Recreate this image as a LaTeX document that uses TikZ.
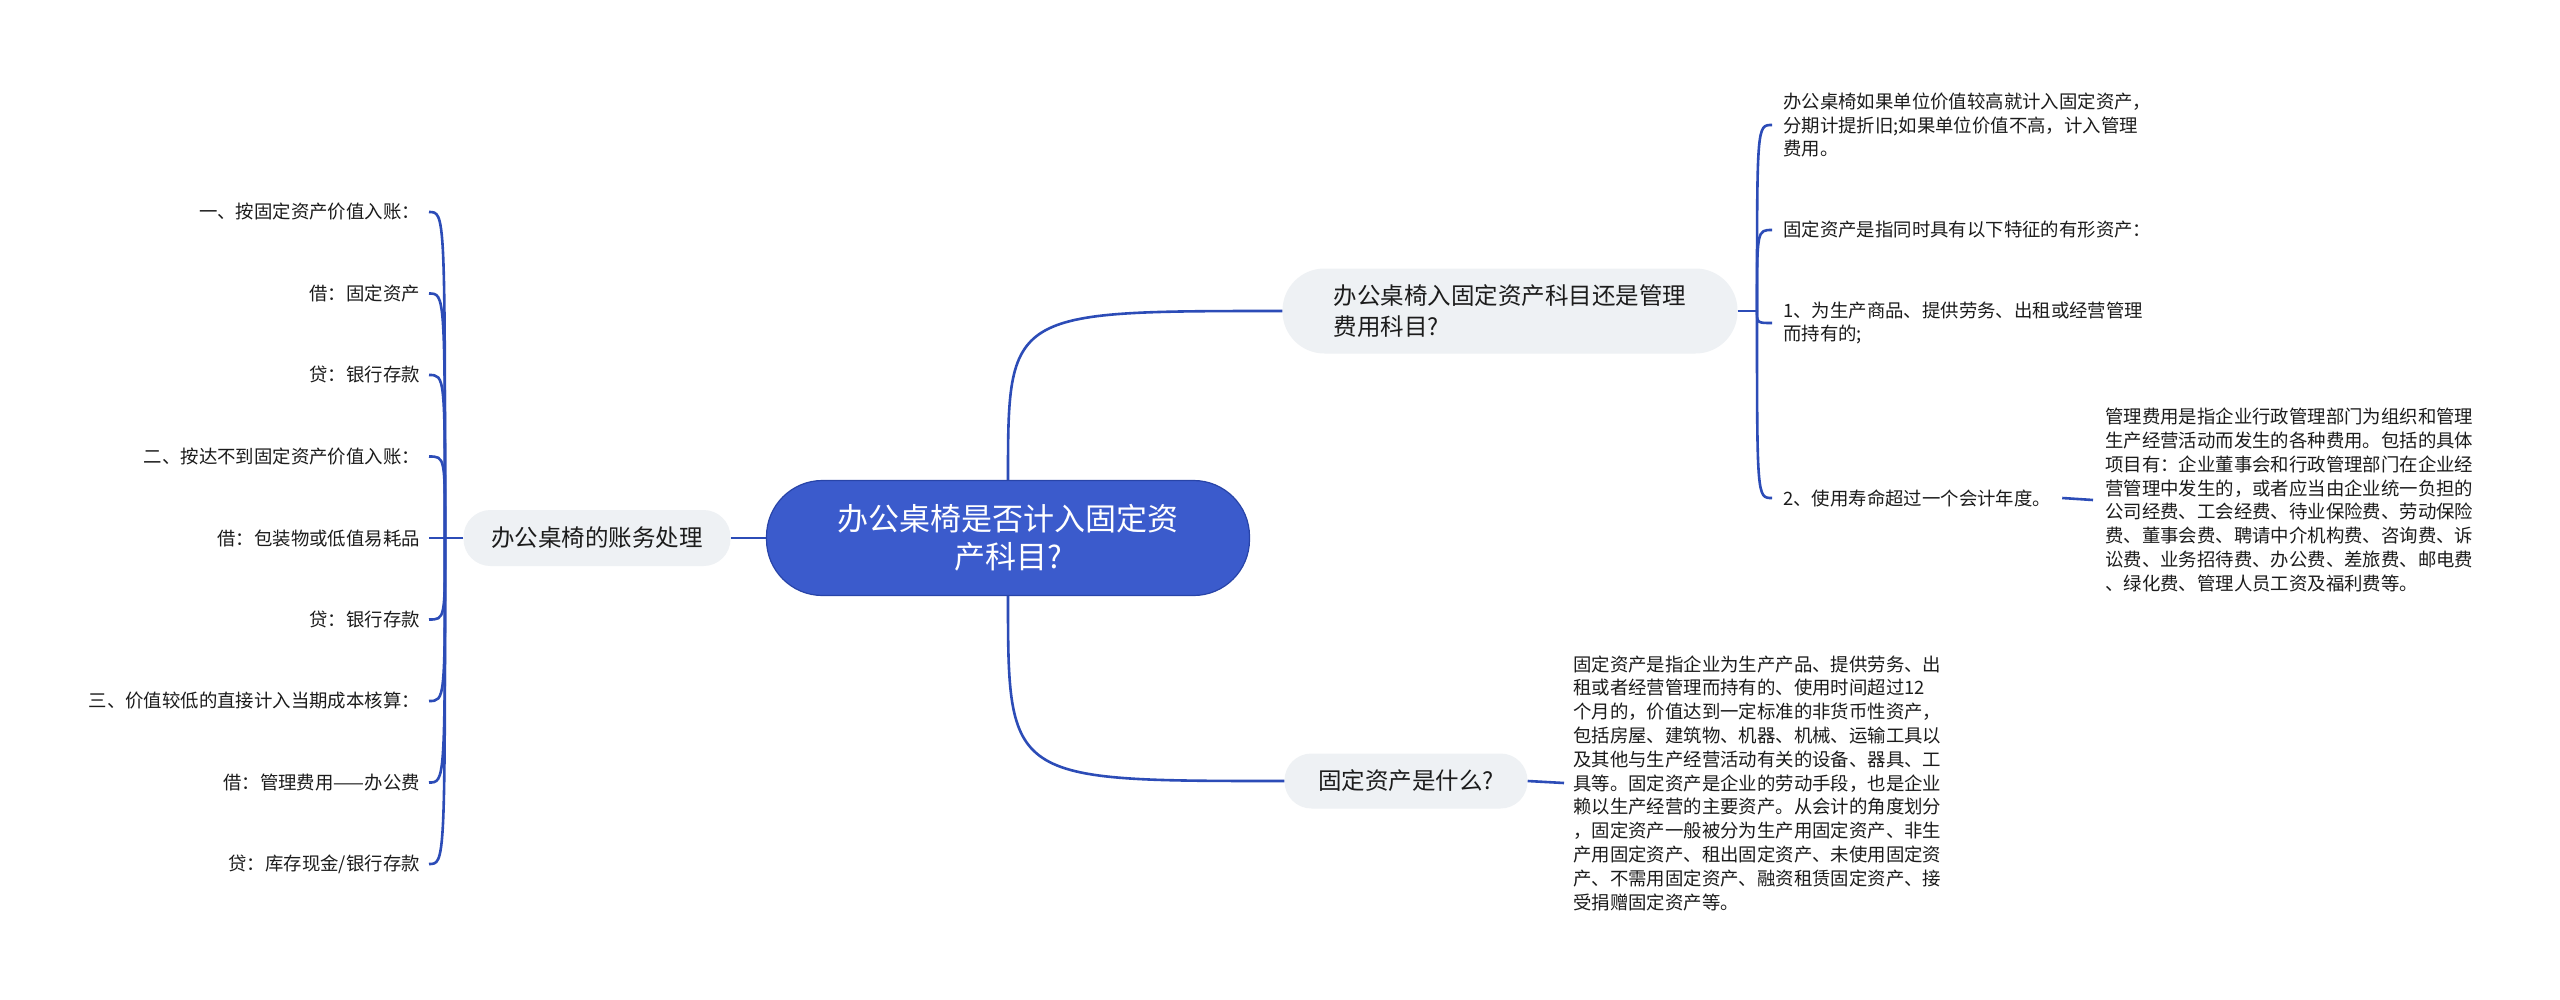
\documentclass[tikz,border=0pt]{standalone}
\usepackage{fontspec}
\setmainfont{Noto Sans CJK SC}
\definecolor{lnk}{RGB}{44,76,183}
\definecolor{cfill}{RGB}{59,91,204}
\definecolor{cdraw}{RGB}{40,68,168}
\definecolor{gfill}{RGB}{238,241,244}
\definecolor{txt}{RGB}{28,28,28}
\begin{document}
\begin{tikzpicture}[x=1pt,y=-1pt,
  link/.style={draw=lnk,line width=2.6pt},
  sm/.style={font=\fontsize{18.4}{23.8}\selectfont,text=txt,inner ysep=0pt,align=left},
  lleaf/.style={sm,anchor=east,inner xsep=9pt},
  rleaf/.style={sm,anchor=west,inner xsep=11pt},
  topic/.style={fill=gfill,text=txt,font=\fontsize{23.5}{31}\selectfont,inner sep=0pt},
  centr/.style={fill=cfill,draw=cdraw,line width=1.2pt,text=white,align=center,
    font=\fontsize{31}{38}\selectfont,minimum width=483pt,minimum height=115pt,rounded corners=56pt,inner sep=0pt}]
\useasboundingbox[fill=white] (0,0) rectangle (2560,999);

% central
\node[centr] (cen) at (1008,538) {办公桌椅是否计入固定资\\产科目?};

% main topics
\node[topic,minimum width=267pt,minimum height=56pt,rounded corners=27pt] (lt) at (597,538) {办公桌椅的账务处理};
\node[topic,minimum width=455pt,minimum height=85pt,rounded corners=42pt,align=left] (tr) at (1510,311) {办公桌椅入固定资产科目还是管理\\费用科目?};
\node[topic,minimum width=243pt,minimum height=55pt,rounded corners=27pt] (br) at (1406,781) {固定资产是什么?};

% left leaves
\node[lleaf] (l1) at (429,212) {一、按固定资产价值入账：};
\node[lleaf] (l2) at (429,293.5) {借：固定资产};
\node[lleaf] (l3) at (429,375) {贷：银行存款};
\node[lleaf] (l4) at (429,456.5) {二、按达不到固定资产价值入账：};
\node[lleaf] (l5) at (429,538) {借：包装物或低值易耗品};
\node[lleaf] (l6) at (429,619.5) {贷：银行存款};
\node[lleaf] (l7) at (429,701) {三、价值较低的直接计入当期成本核算：};
\node[lleaf] (l8) at (429,782.5) {借：管理费用——办公费};
\node[lleaf] (l9) at (429,864) {贷：库存现金/银行存款};
\coordinate (jl) at (445,538);

% right leaves
\node[rleaf] (c1) at (1772,125) {办公桌椅如果单位价值较高就计入固定资产，\\分期计提折旧;如果单位价值不高，计入管理\\费用。};
\node[rleaf] (c2) at (1772,230) {固定资产是指同时具有以下特征的有形资产：};
\node[rleaf] (c3) at (1772,323) {1、为生产商品、提供劳务、出租或经营管理\\而持有的;};
\node[rleaf] (c4) at (1772,498) {2、使用寿命超过一个会计年度。};
\coordinate (jr) at (1757,311);

\node[sm,anchor=west,inner xsep=12pt] (m) at (2093,500) {管理费用是指企业行政管理部门为组织和管理\\生产经营活动而发生的各种费用。包括的具体\\项目有：企业董事会和行政管理部门在企业经\\营管理中发生的，或者应当由企业统一负担的\\公司经费、工会经费、待业保险费、劳动保险\\费、董事会费、聘请中介机构费、咨询费、诉\\讼费、业务招待费、办公费、差旅费、邮电费\\、绿化费、管理人员工资及福利费等。};

\node[sm,anchor=west,inner xsep=9pt] (b) at (1564,783) {固定资产是指企业为生产产品、提供劳务、出\\租或者经营管理而持有的、使用时间超过12\\个月的，价值达到一定标准的非货币性资产，\\包括房屋、建筑物、机器、机械、运输工具以\\及其他与生产经营活动有关的设备、器具、工\\具等。固定资产是企业的劳动手段，也是企业\\赖以生产经营的主要资产。从会计的角度划分\\，固定资产一般被分为生产用固定资产、非生\\产用固定资产、租出固定资产、未使用固定资\\产、不需用固定资产、融资租赁固定资产、接\\受捐赠固定资产等。};

% connectors
\draw[link] (cen.west) -- (lt.east);
\draw[link] (cen.north) .. controls (cen.north |- tr.west) .. (tr.west);
\draw[link] (cen.south) .. controls (cen.south |- br.west) .. (br.west);
\draw[link] (lt.west) -- (jl);
\foreach \n in {l1,l2,l3,l4,l6,l7,l8,l9}{
  \draw[link] (jl) .. controls (jl |- \n.east) .. (\n.east);
}
\draw[link] (jl) -- (l5.east);
\draw[link] (tr.east) -- (jr);
\foreach \n in {c1,c2,c3,c4}{
  \draw[link] (jr) .. controls (jr |- \n.west) .. (\n.west);
}
\draw[link] (c4.east) -- (m.west);
\draw[link] (br.east) -- (b.west);
\end{tikzpicture}
\end{document}
